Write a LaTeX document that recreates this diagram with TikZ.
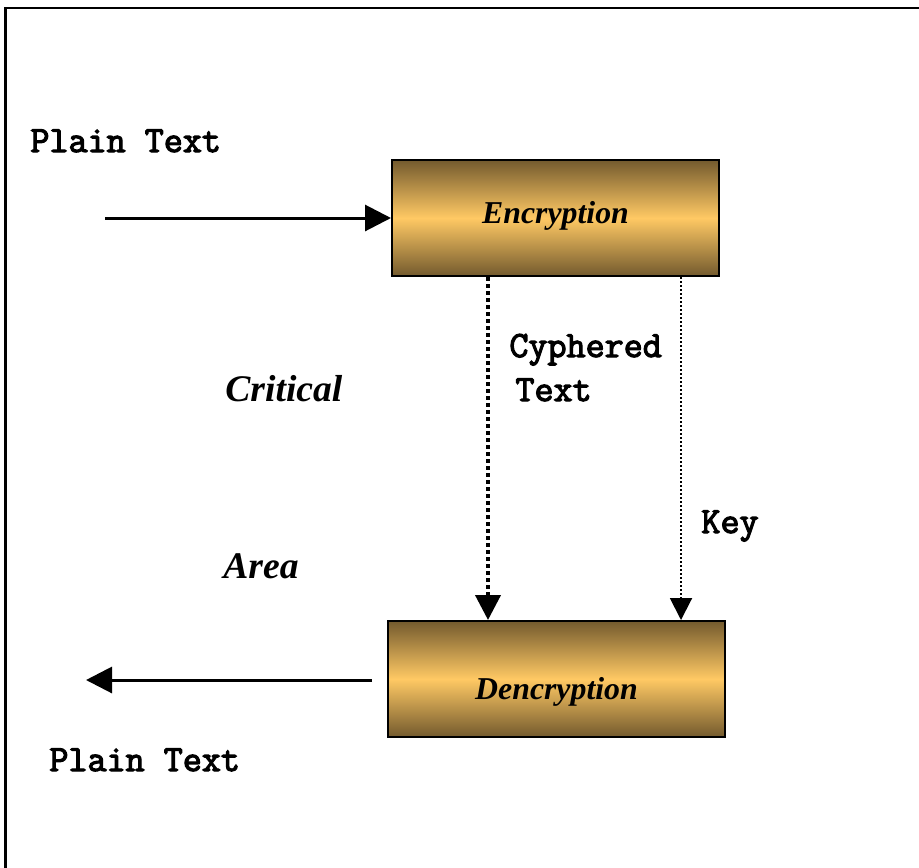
\documentclass[tikz,border=0pt]{standalone}
\usepackage{fontspec}
\setmainfont{Liberation Serif}
\newfontfamily\monofont{Latin Modern Mono}[AutoFakeBold=3.2]
\usetikzlibrary{arrows.meta}
\definecolor{bronzedark}{HTML}{735A2E}
\definecolor{bronzelight}{HTML}{FFC964}
\tikzset{
  cipherbox/.style={draw=black, line width=1pt, minimum width=#1, inner sep=0pt,
    top color=bronzedark, bottom color=bronzedark, middle color=bronzelight,
    font=\fontsize{15.9pt}{18pt}\selectfont\bfseries\itshape},
  monolabel/.style={anchor=base west, inner sep=0pt,
    font=\fontsize{18.5pt}{20pt}\selectfont\monofont\bfseries},
  arealabel/.style={anchor=base west, inner sep=0pt,
    font=\fontsize{18.8pt}{22pt}\selectfont\bfseries\itshape},
  flow/.style={line width=1.5pt, -{Triangle[length=13pt,width=13pt]}},
  cipherflow/.style={line width=2pt, dash pattern=on 2pt off 1.5pt,
    -{Triangle[length=12.5pt,width=12.5pt]}},
  keyflow/.style={line width=1pt, dash pattern=on 1pt off 1pt,
    -{Triangle[length=11pt,width=11pt]}}
}
% box caption whose baseline sits #1 below the box centre
\newcommand{\boxcaption}[2]{\raisebox{-#1}[0pt][0pt]{#2}}
\begin{document}
\begin{tikzpicture}[x=0.5pt, y=-0.5pt]
  \useasboundingbox (0,0) rectangle (919,867);
  % outer frame, running past the right and bottom edges
  \begin{scope}
    \clip (0,0) rectangle (919,867);
    \draw[line width=1.2pt] (5.5,8) rectangle (940,890);
  \end{scope}

  % the two processing boxes
  \node[cipherbox=163.5pt, minimum height=58pt] (enc) at (555.5,218) {\boxcaption{2.5pt}{Encryption}};
  \node[cipherbox=168.5pt, minimum height=58pt] (dec) at (556.5,679) {\boxcaption{10pt}{Dencryption}};

  % labels
  \node[monolabel] (pin) at (30,152) {Plain Text};
  \node[monolabel] (pout) at (49,771) {Plain Text};
  \node[monolabel] (cy1) at (509,357) {Cyphered};
  \node[monolabel] (cy2) at (515,401) {Text};
  \node[monolabel] (key) at (701,533) {Key};
  \node[arealabel] (crit) at (225,401) {Critical};
  \node[arealabel] (area) at (223,578) {Area};

  % free ends and columns of the connectors
  \coordinate (inStart) at (105,218);
  \coordinate (outStart) at (372,680);
  \coordinate (outEnd) at (86,680);
  \coordinate (cyCol) at (488,0);
  \coordinate (keyCol) at (681,0);

  % connectors
  \draw[flow] (inStart) -- (enc.west |- inStart);
  \draw[flow] (outStart) -- (outEnd);
  \draw[cipherflow] (cyCol |- enc.south) -- (cyCol |- dec.north);
  \draw[keyflow] (keyCol |- enc.south) -- (keyCol |- dec.north);
\end{tikzpicture}
\end{document}
